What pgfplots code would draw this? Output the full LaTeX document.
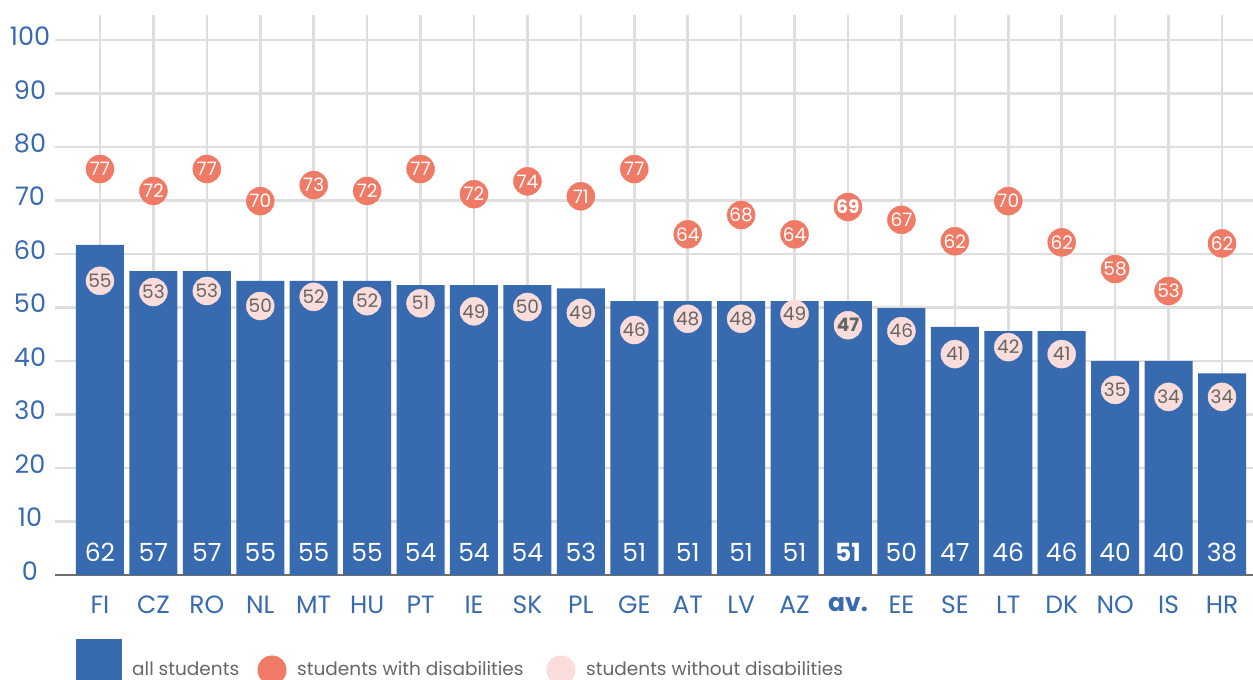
\documentclass[border=0pt]{standalone}
\usepackage{fontspec}
\setmainfont{Poppins}
\usepackage{pgfplots}
\usepackage{pgfplotstable}
\pgfplotsset{compat=1.18}
\definecolor{barblue}{HTML}{386AB0}
\definecolor{dotred}{HTML}{EF7A66}
\definecolor{dotpink}{HTML}{FADCDA}
\definecolor{labgray}{HTML}{666666}
\definecolor{gridgray}{HTML}{DEDEDE}
\definecolor{axisgray}{HTML}{6E6E6E}

\pgfplotstableread{
x bar barl rw rwl nw nwl
0 61.7 62 75.9 77 55.0 55
1 56.8 57 71.8 72 52.9 53
2 56.8 57 75.9 77 53.1 53
3 55.0 55 69.9 70 50.3 50
4 55.0 55 72.9 73 52.0 52
5 55.0 55 71.8 72 51.2 52
6 54.2 54 75.9 77 50.8 51
7 54.2 54 71.2 72 49.3 49
8 54.2 54 73.6 74 50.1 50
9 53.6 53 70.8 71 49.0 49
10 51.2 51 75.9 77 45.8 46
11 51.2 51 63.7 64 47.9 48
12 51.2 51 67.3 68 47.9 48
13 51.2 51 63.7 64 48.8 49
14 51.2 \textbf{51} 68.8 \textbf{69} 46.7 \textbf{47}
15 49.9 50 66.4 67 45.6 46
16 46.4 47 62.4 62 41.3 41
17 45.6 46 69.9 70 42.6 42
18 45.6 46 62.2 62 41.3 41
19 40.0 40 57.2 58 34.6 35
20 40.0 40 53.1 53 33.3 34
21 37.7 38 62.0 62 33.3 34
}\data

\begin{document}
\begin{tikzpicture}
\path[use as bounding box] (0,0) rectangle (1253pt,680pt);
\begin{axis}[
  at={(55pt,105pt)}, anchor=south west,
  scale only axis, width=1198pt, height=560pt,
  xmin=-0.842, xmax=21.58, ymin=0, ymax=104.7,
  xtick={0,...,21},
  xticklabels={FI,CZ,RO,NL,MT,HU,PT,IE,SK,PL,GE,AT,LV,AZ,\textbf{av.},EE,SE,LT,DK,NO,IS,HR},
  ytick={0,10,...,100},
  /pgf/number format/assume math mode=true,
  grid=major, major grid style={gridgray, line width=2.5pt},
  axis x line*=bottom, axis y line*=left,
  x axis line style={axisgray, line width=2.5pt, -},
  y axis line style={draw=none},
  major tick length=0pt,
  yticklabel style={text=barblue, font=\fontsize{25.5}{25.5}\selectfont, anchor=center, xshift=-25pt, yshift=4pt},
  xticklabel style={text=barblue, font=\fontsize{25}{25}\selectfont, anchor=center, yshift=-30pt},
]
\addplot[ybar, bar width=48pt, fill=barblue, draw=none] table[x=x, y=bar] {\data};
\addplot[only marks, mark=*, mark size=14pt, color=dotpink, mark options={draw=dotpink, fill=dotpink},
  nodes near coords, point meta=explicit symbolic,
  nodes near coords style={anchor=center, text=labgray, font=\fontsize{18.5}{18.5}\selectfont}]
  table[x=x, y=nw, meta=nwl] {\data};
\addplot[only marks, mark=*, mark size=14pt, color=dotred, mark options={draw=dotred, fill=dotred},
  nodes near coords, point meta=explicit symbolic,
  nodes near coords style={anchor=center, text=white, font=\fontsize{18.5}{18.5}\selectfont}]
  table[x=x, y=rw, meta=rwl] {\data};
\addplot[only marks, mark=none,
  nodes near coords, point meta=explicit symbolic,
  nodes near coords style={anchor=base, yshift=13pt, text=white, font=\fontsize{25}{25}\selectfont}]
  table[x=x, y expr=0, meta=barl] {\data};
\end{axis}
% legend
\fill[barblue] (76pt,-5pt) rectangle (122pt,41pt);
\node[anchor=base west, inner sep=0pt, text=labgray, font=\fontsize{18.5}{18.5}\selectfont] at (132pt,4.5pt) {all students};
\fill[dotred] (272pt,10pt) circle (14.5pt);
\node[anchor=base west, inner sep=0pt, text=labgray, font=\fontsize{18.5}{18.5}\selectfont] at (297pt,4.5pt) {students with disabilities};
\fill[dotpink] (561pt,10pt) circle (14.5pt);
\node[anchor=base west, inner sep=0pt, text=labgray, font=\fontsize{18.5}{18.5}\selectfont] at (586pt,4.5pt) {students without disabilities};
\end{tikzpicture}
\end{document}
